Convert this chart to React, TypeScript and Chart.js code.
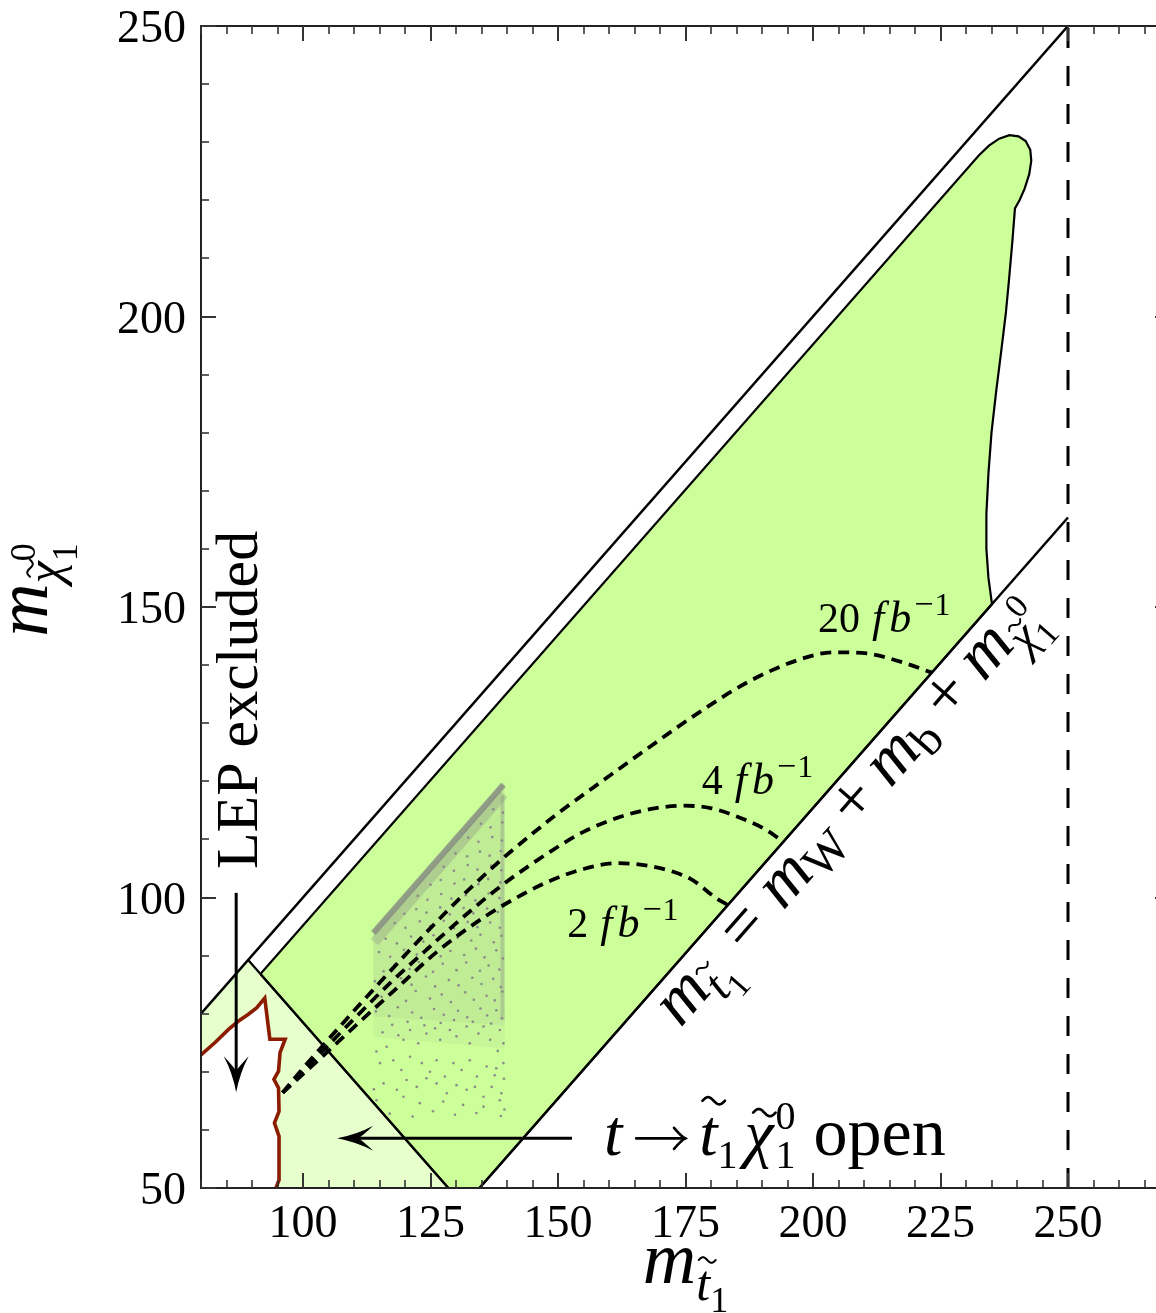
import React, { useEffect, useRef } from 'react';
import { Chart, registerables } from 'chart.js';

Chart.register(...registerables);

// ---------------- axes ----------------
const X_MIN = 80;
const X_MAX = 270;
const Y_MIN = 50;
const Y_MAX = 250;
const X_MAJOR_TICKS = [100, 125, 150, 175, 200, 225, 250];
const X_MINOR_TICKS = [80, 85, 90, 95, 105, 110, 115, 120, 130, 135, 140, 145, 155, 160, 165, 170, 180, 185, 190, 195, 205, 210, 215, 220, 230, 235, 240, 245, 255, 260, 265, 270];
const Y_MAJOR_TICKS = [50, 100, 150, 200, 250];
const Y_MINOR_TICKS = [60, 70, 80, 90, 110, 120, 130, 140, 160, 170, 180, 190, 210, 220, 230, 240];

// ---------------- kinematic lines ----------------
const LINE_EQUAL = [[80, 80], [250, 250]];
const LINE_WB = [[134.6, 50], [250, 165.4]];
const LINE_TOP = [[89.25, 89.25], [128.5, 50]];
const LINE_250 = [[250, 50], [250, 250]];

// ---------------- regions ----------------
const GREEN_REGION = [
  [91.65, 86.85], [232.5, 227.7], [234.5, 229.4], [236.5, 230.6], [238.5, 231.2], [240.3, 231.0],
  [241.7, 230.2], [242.6, 228.7], [242.8, 226.8], [242.4, 224.5], [241.5, 222.0], [240.5, 220.0],
  [239.6, 218.6], [239.1, 213.0], [238.4, 206.0], [237.8, 200.5], [236.9, 194.0], [235.9, 187.0],
  [235.0, 180.0], [234.4, 173.0], [234.0, 166.0], [234.0, 160.0], [234.4, 155.0], [235.1, 150.5],
  [134.6, 50], [128.5, 50], [91.65, 86.85],
];

const LEP_LINE = [
  [80, 72.9], [82.7, 75.0], [85.4, 77.3], [87.3, 78.7], [89.3, 79.9], [90.9, 81.0], [92.5, 82.7],
  [93.5, 75.6], [96.5, 75.6], [95.5, 73.3], [95.2, 70.1], [94.3, 68.7], [95.2, 67.2], [95.3, 63.2],
  [94.4, 61.2], [95.3, 58.9], [95.3, 51.4], [94.7, 50],
];

const LIGHT_REGION = [
  [80, 80], [89.25, 89.25], [128.5, 50], [94.7, 50], [95.3, 51.4], [95.3, 58.9], [94.4, 61.2],
  [95.3, 63.2], [95.2, 67.2], [94.3, 68.7], [95.2, 70.1], [95.5, 73.3], [96.5, 75.6], [93.5, 75.6],
  [92.5, 82.7], [90.9, 81.0], [89.3, 79.9], [87.3, 78.7], [85.4, 77.3], [82.7, 75.0], [80, 72.9], [80, 80],
];

// ---------------- luminosity reach curves ----------------
const CURVE_20 = [
  [96, 66.4], [100, 70.6], [104, 74.6], [110, 80.5], [115.1, 85.4], [122.9, 92.8], [130.8, 99.9],
  [139, 106.6], [145, 111.0], [150, 114.5], [158.3, 119.8], [168.1, 126.0], [177.9, 132.0],
  [187.7, 137.3], [197.5, 141.0], [204, 142.2], [210.6, 142.0], [217.1, 140.6], [223.3, 138.7],
];
const CURVE_4 = [
  [96, 66.4], [100, 70.1], [104, 73.7], [110, 79.1], [117, 85.2], [124.2, 91.0], [132.7, 97.6],
  [139.3, 102.3], [148.5, 107.9], [155, 111.3], [161.6, 113.7], [168, 115.2], [174.6, 115.8], [179.9, 115.4],
  [185.2, 113.9], [190.3, 111.9], [194.2, 109.6],
];
const CURVE_2 = [
  [96, 66.4], [100, 69.6], [104, 72.8], [110, 77.7], [118.4, 84.4], [126.2, 90.6], [136, 96.9],
  [143.2, 100.6], [148.5, 102.9], [155, 104.9], [161.6, 105.9], [168.1, 105.4], [176, 103.2],
  [181, 99.9], [183.5, 98.6],
];

// ---------------- scan points ----------------
const SCAN_DENSE_AREA = [[113.8, 94.3], [139.5, 120.0], [139.6, 78.0], [113.8, 79.5], [113.8, 94.3]];
const SCAN_FADE_AREA = [[113.8, 79.5], [139.6, 78.0], [139.6, 74.0], [113.8, 76.0], [113.8, 79.5]];
const SCAN_EDGE_TOP = [[113.8, 93.9], [139.3, 119.4]];
const SCAN_EDGE_TOP_SOFT = [[114.0, 92.3], [139.4, 117.8]];
const SCAN_EDGE_RIGHT = [[139.1, 79.0], [139.1, 117.5]];
const SCAN_POINTS = [
  [114.3, 80.4], [116.9, 79.6], [118.6, 81.1], [121.4, 80.2], [123.2, 79.3], [125.7, 80.8], [127.6, 79.8], [130.4, 80.5], [132.2, 79.4], [134.8, 80.9], [136.1, 79.7], [137.9, 80.6], [139.0, 79.2],
  [115.4, 82.9], [117.3, 83.6], [120.2, 82.2], [122.1, 83.9], [124.9, 82.6], [127.2, 83.3], [129.0, 82.0], [131.8, 83.7], [133.5, 82.4], [136.0, 83.1], [137.6, 82.3], [139.1, 83.8],
  [114.1, 85.6], [116.7, 84.9], [119.2, 86.1], [121.3, 85.0], [124.1, 86.4], [125.9, 84.7], [128.6, 85.8], [130.5, 84.9], [133.2, 86.2], [135.0, 85.1], [137.3, 86.0], [138.8, 84.6],
  [115.8, 87.3], [118.0, 88.4], [120.9, 87.7], [122.7, 88.9], [125.5, 87.2], [127.4, 88.6], [130.1, 87.5], [132.0, 88.8], [134.7, 87.4], [136.4, 88.3], [138.5, 87.6],
  [114.9, 90.6], [117.1, 89.8], [119.8, 91.0], [122.3, 90.2], [124.3, 91.3], [127.0, 89.9], [128.9, 90.8], [131.6, 90.1], [133.9, 91.2], [135.6, 89.7], [137.9, 90.9], [139.2, 89.5],
  [116.2, 92.9], [118.4, 92.1], [121.2, 93.3], [123.6, 92.4], [125.6, 93.5], [128.3, 92.2], [130.3, 93.1], [133.0, 92.6], [134.8, 93.6], [137.4, 92.3], [138.9, 93.4],
  [118.0, 95.6], [120.1, 94.8], [122.9, 95.9], [124.9, 95.1], [127.6, 96.0], [129.6, 94.7], [132.3, 95.8], [134.2, 94.9], [136.7, 95.7], [138.6, 94.8],
  [119.9, 97.2], [122.2, 98.0], [124.2, 97.4], [126.9, 98.3], [128.8, 97.1], [131.5, 98.2], [133.4, 97.3], [136.1, 98.1], [138.2, 97.5],
  [122.5, 100.3], [124.4, 99.6], [127.1, 100.6], [129.1, 99.8], [131.9, 100.4], [133.8, 99.5], [136.4, 100.7], [138.5, 99.9],
  [125.0, 102.2], [127.0, 103.0], [129.7, 102.4], [131.6, 103.1], [134.4, 102.3], [136.3, 103.2], [138.7, 102.6],
  [127.6, 105.3], [129.6, 104.6], [132.3, 105.6], [134.2, 104.8], [136.9, 105.5], [138.9, 104.7],
  [129.9, 107.6], [132.2, 107.1], [134.7, 107.9], [136.6, 107.2], [138.8, 108.0],
  [132.4, 110.3], [134.4, 109.6], [137.1, 110.4], [139.0, 109.8],
  [134.9, 112.7], [136.8, 112.1], [139.1, 112.9],
  [137.3, 115.2], [139.2, 114.6],
  [114.4, 73.5], [116.4, 74.3], [118.7, 76.3], [119.7, 75.5], [121.0, 77.2], [122.6, 74.9], [124.2, 76.6], [125.9, 77.5], [126.9, 75.5], [128.8, 77.2], [130.1, 76.1], [132.1, 77.8], [132.7, 74.9], [134.4, 76.6], [135.4, 77.8], [136.7, 75.5], [138.6, 77.2], [139.3, 74.9],
  [115.1, 71.5], [117.7, 72.0], [119.3, 70.3], [121.0, 72.6], [123.3, 71.5], [124.9, 70.0], [126.2, 72.0], [127.8, 69.2], [129.5, 71.5], [131.1, 70.3], [132.7, 72.0], [134.1, 69.2], [136.0, 70.9], [137.6, 69.4], [139.3, 71.5],
  [115.8, 68.0], [118.4, 66.9], [120.3, 68.6], [122.3, 67.4], [124.2, 68.9], [126.2, 68.0], [128.2, 66.3], [130.1, 67.7], [132.1, 66.9], [133.7, 67.4], [135.4, 65.7], [137.0, 67.4], [138.9, 66.3],
  [114.4, 65.1], [119.7, 65.7], [122.9, 64.6], [127.5, 64.9], [131.4, 64.3], [135.4, 64.0], [138.6, 65.1],
  [117.0, 62.8], [121.5, 62.3], [125.5, 63.2], [129.8, 62.6], [134.0, 62.9], [138.8, 62.4], [113.9, 67.0], [139.4, 68.8], [139.5, 63.5],
  [115.6, 76.8], [117.5, 78.1], [120.5, 78.6], [123.8, 78.0], [127.0, 78.4], [129.6, 78.9], [133.3, 78.6], [136.9, 78.3], [138.2, 73.6], [137.9, 70.6],
];

// ---------------- annotations ----------------
const LUMI_LABELS = [
  { x: 201.0, y: 145.75, num: '20' },
  { x: 178.2, y: 117.9, num: '4' },
  { x: 151.8, y: 93.2, num: '2' },
];
const LEP_TEXT_POS = [90.98, 134.0];
const DECAY_TEXT_POS = [159.0, 55.7];
const DIAG_TEXT_POS = [209.4, 112.9];
const LEP_ARROW = [[86.9, 100.8], [86.9, 66.5]];
const DECAY_ARROW = [[152.75, 58.55], [106.7, 58.55]];

// ---------------- styles ----------------
const FAMILY = 'Liberation Serif';
const FONT = `'${FAMILY}', 'DejaVu Serif', serif`;
const GREEN = '#ccff99';
const LIGHT_GREEN = '#e6ffcc';
const LEP_RED = '#8c1c00';
const SCAN_GREY = '#8a8a8a';

type Run = { s: string; size: number; it?: boolean; dy?: number; gap?: number; tilde?: number; stack?: boolean; arrow?: number };

function fontOf(r: Run) {
  return `${r.it ? 'italic ' : ''}${r.size}px ${FONT}`;
}

function drawRuns(ctx: CanvasRenderingContext2D, runs: Run[], px: number, py: number, angle: number, align: number) {
  let x = 0;
  let prevStart = 0;
  const items: { r: Run; x: number; w: number }[] = [];
  for (const r of runs) {
    ctx.font = fontOf(r);
    const w = r.arrow ? r.arrow : ctx.measureText(r.s).width;
    const start = r.stack ? prevStart : x + (r.gap || 0);
    items.push({ r, x: start, w });
    x = Math.max(x, start + w);
    if (!r.stack) prevStart = start;
  }
  const width = x;
  ctx.save();
  ctx.translate(px, py);
  ctx.rotate(angle);
  ctx.fillStyle = '#000';
  ctx.strokeStyle = '#000';
  ctx.textAlign = 'left';
  ctx.textBaseline = 'alphabetic';
  const ox = -width * align;
  for (const it of items) {
    const size = it.r.size;
    const dy = it.r.dy || 0;
    if (it.r.arrow) {
      const x0 = ox + it.x;
      const x1 = x0 + it.w;
      const ya = dy - size * 0.25;
      ctx.lineWidth = size * 0.04;
      ctx.lineCap = 'round';
      ctx.beginPath();
      ctx.moveTo(x0, ya);
      ctx.lineTo(x1, ya);
      ctx.stroke();
      ctx.beginPath();
      ctx.moveTo(x1 - size * 0.17, ya - size * 0.16);
      ctx.quadraticCurveTo(x1 - size * 0.06, ya - size * 0.03, x1, ya);
      ctx.quadraticCurveTo(x1 - size * 0.06, ya + size * 0.03, x1 - size * 0.17, ya + size * 0.16);
      ctx.stroke();
      continue;
    }
    ctx.font = fontOf(it.r);
    ctx.fillText(it.r.s, ox + it.x, dy);
    if (it.r.tilde) {
      const cx = ox + it.x + it.w / 2 + (it.r.it ? size * 0.08 : 0);
      const cy = dy - size * it.r.tilde;
      const tw = size * 0.34;
      const a = size * 0.055;
      ctx.lineWidth = size * 0.04;
      ctx.lineCap = 'round';
      ctx.beginPath();
      for (let k = 0; k <= 24; k++) {
        const t = k / 24;
        const xx = cx - tw / 2 + t * tw;
        const yy = cy - a * Math.sin(2 * Math.PI * t);
        if (k === 0) ctx.moveTo(xx, yy);
        else ctx.lineTo(xx, yy);
      }
      ctx.stroke();
    }
  }
  ctx.restore();
}

function drawArrow(ctx: CanvasRenderingContext2D, x1: number, y1: number, x2: number, y2: number) {
  const ang = Math.atan2(y2 - y1, x2 - x1);
  const L = 36;
  const W = 12.5;
  const N = 21;
  ctx.save();
  ctx.strokeStyle = '#000';
  ctx.fillStyle = '#000';
  ctx.lineWidth = 3;
  ctx.beginPath();
  ctx.moveTo(x1, y1);
  ctx.lineTo(x2 - Math.cos(ang) * N, y2 - Math.sin(ang) * N);
  ctx.stroke();
  ctx.translate(x2, y2);
  ctx.rotate(ang);
  ctx.beginPath();
  ctx.moveTo(0, 0);
  ctx.quadraticCurveTo(-L * 0.55, -W * 0.3, -L, -W);
  ctx.quadraticCurveTo(-N - 4, -2, -N, 0);
  ctx.quadraticCurveTo(-N - 4, 2, -L, W);
  ctx.quadraticCurveTo(-L * 0.55, W * 0.3, 0, 0);
  ctx.closePath();
  ctx.fill();
  ctx.restore();
}

const pts = (arr: number[][]) => arr.map(([x, y]) => ({ x, y }));

const annotationsPlugin = {
  id: 'annotations',
  afterDatasetsDraw(chart: any) {
    const ctx: CanvasRenderingContext2D = chart.ctx;
    const xs = chart.scales.x;
    const ys = chart.scales.y;
    const X = (v: number) => xs.getPixelForValue(v);
    const Y = (v: number) => ys.getPixelForValue(v);

    for (const l of LUMI_LABELS) {
      drawRuns(ctx, [
        { s: l.num, size: 42 },
        { s: 'f', size: 44, it: true, gap: 12 },
        { s: 'b', size: 44, it: true, gap: 5 },
        { s: '\u2212', size: 34, dy: -17, gap: 3 },
        { s: '1', size: 32, dy: -17, gap: 1 },
      ], X(l.x), Y(l.y), 0, 0);
    }

    drawRuns(ctx, [{ s: 'LEP excluded', size: 60 }], X(LEP_TEXT_POS[0]), Y(LEP_TEXT_POS[1]), -Math.PI / 2, 0.5);

    drawRuns(ctx, [
      { s: 't', size: 66, it: true },
      { s: '', size: 66, gap: 14, arrow: 49 },
      { s: 't', size: 66, it: true, gap: 14, tilde: 0.82 },
      { s: '1', size: 40, dy: 13 },
      { s: '\u03c7', size: 66, it: true, gap: 7, tilde: 0.64 },
      { s: '1', size: 40, dy: 13, gap: 2 },
      { s: '0', size: 40, dy: -26, stack: true },
      { s: 'open', size: 68, gap: 18 },
    ], X(DECAY_TEXT_POS[0]), Y(DECAY_TEXT_POS[1]), 0, 0);

    const ang = Math.atan2(Y(LINE_WB[1][1]) - Y(LINE_WB[0][1]), X(LINE_WB[1][0]) - X(LINE_WB[0][0]));
    drawRuns(ctx, [
      { s: 'm', size: 68, it: true },
      { s: 't', size: 48, it: true, dy: 15, tilde: 0.8 },
      { s: '1', size: 34, dy: 26 },
      { s: '=', size: 68, gap: 19 },
      { s: 'm', size: 68, it: true, gap: 19 },
      { s: 'W', size: 48, dy: 10 },
      { s: '+', size: 68, gap: 15 },
      { s: 'm', size: 68, it: true, gap: 15 },
      { s: 'b', size: 48, dy: 10 },
      { s: '+', size: 68, gap: 15 },
      { s: 'm', size: 68, it: true, gap: 15 },
      { s: '\u03c7', size: 48, it: true, dy: 15, tilde: 0.62 },
      { s: '1', size: 34, dy: 26 },
      { s: '0', size: 34, dy: -15, stack: true },
    ], X(DIAG_TEXT_POS[0]), Y(DIAG_TEXT_POS[1]), ang, 0.5);

    drawArrow(ctx, X(LEP_ARROW[0][0]), Y(LEP_ARROW[0][1]), X(LEP_ARROW[1][0]), Y(LEP_ARROW[1][1]));
    drawArrow(ctx, X(DECAY_ARROW[0][0]), Y(DECAY_ARROW[0][1]), X(DECAY_ARROW[1][0]), Y(DECAY_ARROW[1][1]));
  },
};

const framePlugin = {
  id: 'frame',
  afterDraw(chart: any) {
    const ctx: CanvasRenderingContext2D = chart.ctx;
    const a = chart.chartArea;
    const xs = chart.scales.x;
    const ys = chart.scales.y;
    ctx.save();
    ctx.strokeStyle = '#222';
    ctx.lineWidth = 2;
    ctx.strokeRect(a.left, a.top, a.right - a.left, a.bottom - a.top);

    const tick = (x1: number, y1: number, x2: number, y2: number, w: number) => {
      ctx.lineWidth = w;
      ctx.beginPath();
      ctx.moveTo(x1, y1);
      ctx.lineTo(x2, y2);
      ctx.stroke();
    };
    ctx.strokeStyle = '#333';
    for (const v of X_MAJOR_TICKS) {
      const p = Math.round(xs.getPixelForValue(v));
      tick(p, a.bottom, p, a.bottom - 15, 2);
      tick(p, a.top, p, a.top + 15, 2);
    }
    for (const v of X_MINOR_TICKS) {
      const p = Math.round(xs.getPixelForValue(v));
      tick(p, a.bottom, p, a.bottom - 8, 1.6);
      tick(p, a.top, p, a.top + 8, 1.6);
    }
    for (const v of Y_MAJOR_TICKS) {
      const p = Math.round(ys.getPixelForValue(v));
      tick(a.left, p, a.left + 15, p, 2);
      tick(a.right, p, a.right - 15, p, 2);
    }
    for (const v of Y_MINOR_TICKS) {
      const p = Math.round(ys.getPixelForValue(v));
      tick(a.left, p, a.left + 8, p, 1.6);
      tick(a.right, p, a.right - 8, p, 1.6);
    }

    ctx.fillStyle = '#000';
    ctx.font = `46px ${FONT}`;
    ctx.textBaseline = 'alphabetic';
    ctx.textAlign = 'center';
    for (const v of X_MAJOR_TICKS) {
      ctx.fillText(String(v), xs.getPixelForValue(v), a.bottom + 49);
    }
    ctx.textAlign = 'right';
    for (const v of Y_MAJOR_TICKS) {
      ctx.fillText(String(v), a.left - 15, ys.getPixelForValue(v) + 16);
    }

    drawRuns(ctx, [
      { s: 'm', size: 74, it: true },
      { s: 't', size: 50, it: true, dy: 17, tilde: 0.8 },
      { s: '1', size: 36, dy: 29 },
    ], (a.left + a.right) / 2, a.bottom + 95, 0, 0.5);

    drawRuns(ctx, [
      { s: 'm', size: 74, it: true },
      { s: '\u03c7', size: 50, it: true, dy: 14, tilde: 0.62 },
      { s: '1', size: 36, dy: 30 },
      { s: '0', size: 36, dy: -12, stack: true },
    ], 47, (a.top + a.bottom) / 2 - 17, -Math.PI / 2, 0.5);
    ctx.restore();
  },
};

export default function App() {
  const ref = useRef<HTMLCanvasElement | null>(null);
  useEffect(() => {
    if (!ref.current) return;
    const line = (data: number[][], extra: any) => ({
      data: pts(data),
      showLine: true,
      pointRadius: 0,
      pointHoverRadius: 0,
      fill: false,
      tension: 0,
      borderColor: '#000',
      borderWidth: 2.5,
      ...extra,
    });
    const chart = new Chart(ref.current, {
      type: 'scatter',
      data: {
        datasets: [
          line(LIGHT_REGION, { order: 20, fill: 'shape', backgroundColor: LIGHT_GREEN, borderWidth: 0, borderColor: 'rgba(0,0,0,0)' }),
          line(GREEN_REGION, { order: 19, fill: 'shape', backgroundColor: GREEN, borderWidth: 2.2, borderColor: '#000' }),
          line(SCAN_DENSE_AREA, { order: 18, fill: 'shape', backgroundColor: 'rgba(128,128,128,0.15)', borderWidth: 0, borderColor: 'rgba(0,0,0,0)' }),
          line(SCAN_FADE_AREA, { order: 18, fill: 'shape', backgroundColor: 'rgba(128,128,128,0.07)', borderWidth: 0, borderColor: 'rgba(0,0,0,0)' }),
          line(SCAN_EDGE_TOP_SOFT, { order: 17, borderWidth: 10, borderColor: 'rgba(128,128,128,0.28)', borderCapStyle: 'butt' }),
          line(SCAN_EDGE_TOP, { order: 16, borderWidth: 6, borderColor: 'rgba(128,128,128,0.75)', borderCapStyle: 'butt' }),
          line(SCAN_EDGE_RIGHT, { order: 16, borderWidth: 4, borderColor: 'rgba(128,128,128,0.3)', borderCapStyle: 'butt' }),
          {
            data: pts(SCAN_POINTS),
            order: 15,
            showLine: false,
            pointRadius: 1.3,
            pointHoverRadius: 1.3,
            pointBorderWidth: 0,
            pointBackgroundColor: SCAN_GREY,
            backgroundColor: SCAN_GREY,
          },
          line(LINE_EQUAL, { order: 10 }),
          line(LINE_WB, { order: 10 }),
          line(LINE_TOP, { order: 10, borderWidth: 2.2 }),
          line(LINE_250, { order: 10, borderWidth: 3, borderDash: [20, 18] }),
          line(LEP_LINE, { order: 9, borderColor: LEP_RED, borderWidth: 3.6, borderJoinStyle: 'miter' }),
          line(CURVE_20, { order: 8, borderWidth: 3.8, borderDash: [11, 7], cubicInterpolationMode: 'monotone' }),
          line(CURVE_4, { order: 8, borderWidth: 3.8, borderDash: [11, 7], cubicInterpolationMode: 'monotone' }),
          line(CURVE_2, { order: 8, borderWidth: 3.8, borderDash: [11, 7], cubicInterpolationMode: 'monotone' }),
        ],
      },
      options: {
        responsive: false,
        maintainAspectRatio: false,
        animation: false,
        events: [],
        layout: { autoPadding: false, padding: { left: 0, right: 10, top: 26, bottom: 0 } },
        plugins: { legend: { display: false }, tooltip: { enabled: false } },
        scales: {
          x: {
            type: 'linear', min: X_MIN, max: X_MAX,
            ticks: { display: false }, grid: { display: false, drawTicks: false }, border: { display: false },
            afterFit: (s: any) => { s.height = 125; },
          },
          y: {
            type: 'linear', min: Y_MIN, max: Y_MAX,
            ticks: { display: false }, grid: { display: false, drawTicks: false }, border: { display: false },
            afterFit: (s: any) => { s.width = 201; },
          },
        },
      },
      plugins: [annotationsPlugin, framePlugin],
    } as any);
    let alive = true;
    const fonts: any = (document as any).fonts;
    if (fonts && fonts.ready) fonts.ready.then(() => { if (alive) chart.update(); });
    return () => { alive = false; chart.destroy(); };
  }, []);
  return (
    <div style={{ position: 'absolute', left: 0, top: 0, width: 1156, height: 1313, overflow: 'hidden', background: '#fff' }}>
      <canvas ref={ref} width={1180} height={1313} style={{ display: 'block', width: 1180, height: 1313 }} />
    </div>
  );
}
